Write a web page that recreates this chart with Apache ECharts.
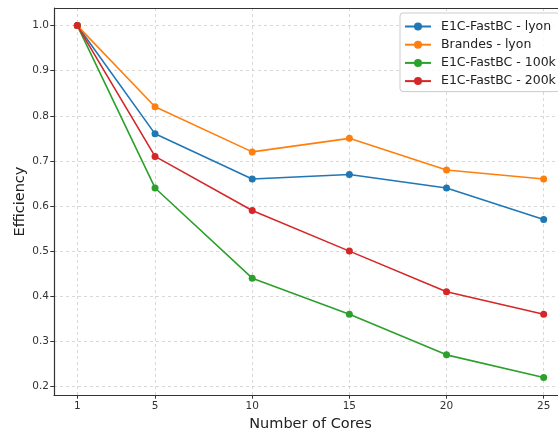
<!DOCTYPE html>
<html><head><meta charset="utf-8">
<script src="https://cdn.jsdelivr.net/npm/echarts@6/dist/echarts.min.js"></script>
<style>html,body{margin:0;padding:0;background:#fff}#c{width:558px;height:434px}</style>
</head><body><div id="c"></div>
<script>
const cores = [1, 5, 10, 15, 20, 25];
const yTicks = [0.2, 0.3, 0.4, 0.5, 0.6, 0.7, 0.8, 0.9, 1.0];
const e1cLyon = [1.0, 0.76, 0.66, 0.67, 0.64, 0.57];
const brandesLyon = [1.0, 0.82, 0.72, 0.75, 0.68, 0.66];
const e1c100k = [1.0, 0.64, 0.44, 0.36, 0.27, 0.22];
const e1c200k = [1.0, 0.71, 0.59, 0.50, 0.41, 0.36];
const names = ['E1C-FastBC - lyon', 'Brandes - lyon', 'E1C-FastBC - 100k', 'E1C-FastBC - 200k'];
const colors = ['#1f77b4', '#ff7f0e', '#2ca02c', '#d62728'];
const seriesData = [e1cLyon, brandesLyon, e1c100k, e1c200k];
const font = 'DejaVu Sans';

const chart = echarts.init(document.getElementById('c'), null, {renderer: 'canvas'});
chart.setOption({
  animation: false,
  backgroundColor: '#fff',
  grid: {left: 54, top: 8, width: 513, height: 387, containLabel: false, outerBoundsMode: 'none'},
  xAxis: {
    type: 'value', min: -0.2, max: 26.2,
    name: 'Number of Cores', nameLocation: 'middle', nameGap: 22, nameMoveOverlap: false,
    nameTextStyle: {fontFamily: font, fontSize: 14.5, color: '#222'},
    axisLine: {show: true, onZero: false, lineStyle: {color: '#333', width: 1.2}},
    axisTick: {show: true, length: 3.7, customValues: cores, lineStyle: {color: '#333'}},
    axisLabel: {customValues: cores, fontFamily: font, fontSize: 10.5, color: '#333', margin: 6},
    splitLine: {show: true, lineStyle: {type: [3, 3], color: '#cfcfcf', width: 0.8}}
  },
  yAxis: {
    type: 'value', min: 0.181, max: 1.039,
    name: 'Efficiency', nameLocation: 'middle', nameGap: 26, nameRotate: 90, nameMoveOverlap: false,
    nameTextStyle: {fontFamily: font, fontSize: 14.5, color: '#222'},
    axisLine: {show: true, onZero: false, lineStyle: {color: '#333', width: 1.2}},
    axisTick: {show: true, length: 3.7, customValues: yTicks, lineStyle: {color: '#333'}},
    axisLabel: {customValues: yTicks, fontFamily: font, fontSize: 10.5, color: '#333', margin: 5,
      formatter: v => v.toFixed(1)},
    splitLine: {show: true, lineStyle: {type: [3, 3], color: '#cfcfcf', width: 0.8}}
  },
  legend: {
    show: true, orient: 'vertical', left: 400, top: 13,
    itemWidth: 26, itemHeight: 10, itemGap: 5.2,
    padding: [7, 4, 4, 4],
    backgroundColor: 'rgba(255,255,255,0.85)', borderColor: '#ccc', borderWidth: 1, borderRadius: 3,
    textStyle: {fontFamily: font, fontSize: 12.5, color: '#222', padding: [0, 0, 0, 5]},
    data: names
  },
  series: names.map((n, i) => ({
    name: n, type: 'line',
    data: cores.map((c, j) => [c, seriesData[i][j]]),
    color: colors[i],
    symbol: 'circle', symbolSize: 7,
    lineStyle: {width: 1.6, color: colors[i]},
    itemStyle: {color: colors[i]},
    z: 2 + i
  })).concat([{
    type: 'line', data: [], silent: true,
    markLine: {silent: true, symbol: 'none', label: {show: false},
      lineStyle: {color: '#333', width: 1.2, type: 'solid'},
      data: [[{coord: [-0.2, 1.039]}, {coord: [26.2, 1.039]}]]}
  }])
});
</script></body></html>
